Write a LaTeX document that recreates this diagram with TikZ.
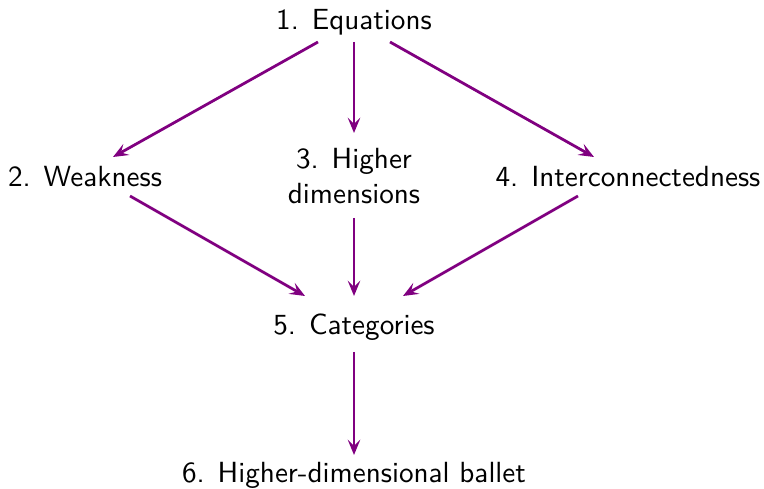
\documentclass[tikz,border=0pt]{standalone}
\usetikzlibrary{arrows.meta,calc}
\definecolor{arrowpurple}{RGB}{128,0,128}
\begin{document}
\begin{tikzpicture}[x=0.36pt,y=-0.36pt,
  lbl/.style={font=\sffamily\fontsize{10.5}{12.6}\selectfont, inner sep=0pt, text height=8pt, text depth=2.5pt},
  lbl2/.style={font=\sffamily\fontsize{10.5}{12.6}\selectfont, inner sep=0pt, align=center},
  arr/.style={draw=arrowpurple, line width=1pt, -{Stealth[length=5.5pt,width=4.5pt,inset=2.2pt]}}]
\useasboundingbox (0,0) rectangle (764,489);
\node[lbl] (n1) at (354,22) {1. Equations};
\node[lbl] (n2) at (85,179) {2. Weakness};
\node[lbl2] (n3) at (354,176) {3. Higher\\dimensions};
\node[lbl] (n4) at (628,179) {4. Interconnectedness};
\node[lbl] (n5) at (354,327) {5. Categories};
\node[lbl] (n6) at (354,475) {6. Higher-dimensional ballet};
\draw[arr] ($(n1)+(-36,20)$) -- ($(n2)+(28,-22)$);
\draw[arr] ($(n1)+(0,20)$) -- ($(n3)+(0,-43)$);
\draw[arr] ($(n1)+(36,20)$) -- ($(n4)+(-34,-22)$);
\draw[arr] ($(n2)+(45,17)$) -- ($(n5)+(-49,-31)$);
\draw[arr] ($(n3)+(0,42)$) -- ($(n5)+(0,-31)$);
\draw[arr] ($(n4)+(-50,17)$) -- ($(n5)+(49,-31)$);
\draw[arr] ($(n5)+(0,25)$) -- ($(n6)+(0,-20)$);
\end{tikzpicture}
\end{document}
